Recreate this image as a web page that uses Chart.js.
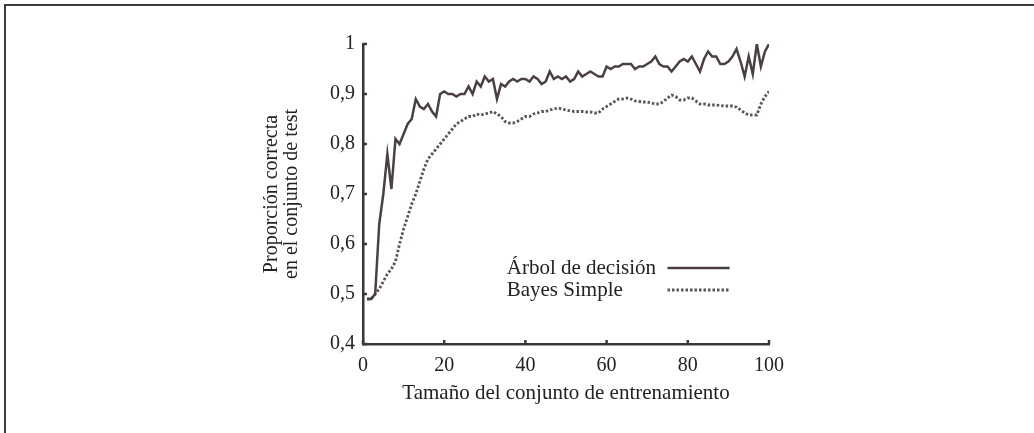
<!DOCTYPE html>
<html lang="es">
<head>
<meta charset="utf-8">
<title>Curva de aprendizaje</title>
<script src="https://cdn.jsdelivr.net/npm/chart.js@4.4.1/dist/chart.umd.min.js"></script>
<style>
  html, body { margin: 0; padding: 0; background: #fff; }
  .frame {
    position: absolute; left: 4px; top: 4px; right: 0; bottom: 0;
    border-top: 2px solid #3c3c3c; border-left: 2px solid #3c3c3c;
  }
  .chart-box { position: absolute; left: 0; top: 0; width: 1034px; height: 433px; }
</style>
</head>
<body>
<div class="frame"></div>
<div class="chart-box"><canvas id="learningChart" width="1034" height="433"></canvas></div>
<script>
// training set sizes (x) and accuracy on the test set for each method
const trainSizes = [
  1, 2, 3, 4, 5, 6, 7, 8, 9, 10, 11, 12, 13, 14, 15, 16, 17, 18, 19, 20,
  21, 22, 23, 24, 25, 26, 27, 28, 29, 30, 31, 32, 33, 34, 35, 36, 37, 38, 39, 40,
  41, 42, 43, 44, 45, 46, 47, 48, 49, 50, 51, 52, 53, 54, 55, 56, 57, 58, 59, 60,
  61, 62, 63, 64, 65, 66, 67, 68, 69, 70, 71, 72, 73, 74, 75, 76, 77, 78, 79, 80,
  81, 82, 83, 84, 85, 86, 87, 88, 89, 90, 91, 92, 93, 94, 95, 96, 97, 98, 99, 100
];

const treeAccuracy = [
  0.49, 0.49, 0.50, 0.64, 0.70, 0.78, 0.71, 0.81, 0.80, 0.82,
  0.84, 0.85, 0.89, 0.875, 0.87, 0.88, 0.865, 0.855, 0.90, 0.905,
  0.90, 0.90, 0.895, 0.90, 0.90, 0.915, 0.90, 0.925, 0.915, 0.935,
  0.925, 0.93, 0.89, 0.92, 0.915, 0.925, 0.93, 0.925, 0.93, 0.93,
  0.925, 0.935, 0.93, 0.92, 0.925, 0.945, 0.93, 0.935, 0.93, 0.935,
  0.925, 0.93, 0.945, 0.935, 0.94, 0.945, 0.94, 0.935, 0.935, 0.955,
  0.95, 0.955, 0.955, 0.96, 0.96, 0.96, 0.95, 0.955, 0.955, 0.96,
  0.965, 0.975, 0.96, 0.955, 0.955, 0.945, 0.955, 0.965, 0.97, 0.965,
  0.975, 0.96, 0.945, 0.97, 0.985, 0.975, 0.975, 0.96, 0.96, 0.965,
  0.975, 0.99, 0.965, 0.935, 0.975, 0.94, 1.0, 0.955, 0.985, 1.0
];

const bayesAccuracy = [
  0.49, 0.49, 0.50, 0.51, 0.525, 0.54, 0.55, 0.565, 0.60, 0.63,
  0.655, 0.68, 0.70, 0.725, 0.75, 0.77, 0.78, 0.79, 0.80, 0.81,
  0.82, 0.83, 0.84, 0.845, 0.85, 0.855, 0.855, 0.86, 0.858, 0.86,
  0.862, 0.865, 0.86, 0.855, 0.845, 0.842, 0.842, 0.845, 0.85, 0.855,
  0.855, 0.86, 0.862, 0.865, 0.865, 0.868, 0.87, 0.872, 0.87, 0.868,
  0.866, 0.865, 0.865, 0.865, 0.864, 0.864, 0.862, 0.862, 0.87, 0.875,
  0.88, 0.885, 0.89, 0.89, 0.892, 0.89, 0.886, 0.885, 0.884, 0.884,
  0.882, 0.88, 0.88, 0.885, 0.892, 0.898, 0.895, 0.888, 0.888, 0.892,
  0.892, 0.886, 0.88, 0.88, 0.878, 0.878, 0.878, 0.877, 0.876, 0.876,
  0.876, 0.874, 0.868, 0.862, 0.858, 0.858, 0.858, 0.88, 0.895, 0.905
];

const xTickValues = [0, 20, 40, 60, 80, 100];
const yTickLabels = ['0,4', '0,5', '0,6', '0,7', '0,8', '0,9', '1'];
const seriesNames = ['Árbol de decisión', 'Bayes Simple'];

const inkColor = '#3c3636';
const serifFont = '"Liberation Serif", "DejaVu Serif", serif';

// small tick marks pointing into the plot, like the printed figure
const innerTicks = {
  id: 'innerTicks',
  afterDraw(chart) {
    const { ctx, chartArea, scales } = chart;
    ctx.save();
    ctx.strokeStyle = inkColor;
    ctx.lineWidth = 2.5;
    ctx.beginPath();
    xTickValues.forEach(v => {
      const px = scales.x.getPixelForValue(v);
      ctx.moveTo(px, chartArea.bottom);
      ctx.lineTo(px, chartArea.bottom - 4);
    });
    yTickLabels.forEach((lbl, i) => {
      const py = scales.y.getPixelForValue(0.4 + i * 0.1);
      ctx.moveTo(chartArea.left, py);
      ctx.lineTo(chartArea.left + 4, py);
    });
    ctx.stroke();
    ctx.restore();
  }
};

// legend sits inside the plot, text first then the line sample
const insideLegend = {
  id: 'insideLegend',
  afterDraw(chart) {
    const { ctx, chartArea } = chart;
    const w = chartArea.right - chartArea.left;
    const h = chartArea.bottom - chartArea.top;
    const textX = chartArea.left + w * 0.354;
    const lineX0 = chartArea.left + w * 0.75;
    const lineX1 = chartArea.left + w * 0.903;
    const rows = [chartArea.top + h * 0.747, chartArea.top + h * 0.82];
    ctx.save();
    ctx.font = '21px ' + serifFont;
    ctx.fillStyle = '#222';
    ctx.textBaseline = 'middle';
    ctx.textAlign = 'left';
    chart.data.datasets.forEach((ds, i) => {
      ctx.fillText(seriesNames[i], textX, rows[i]);
      ctx.strokeStyle = ds.borderColor;
      ctx.lineWidth = ds.borderWidth;
      ctx.setLineDash(ds.borderDash || []);
      ctx.beginPath();
      ctx.moveTo(lineX0, rows[i]);
      ctx.lineTo(lineX1, rows[i]);
      ctx.stroke();
    });
    ctx.restore();
  }
};

const ctx = document.getElementById('learningChart');

new Chart(ctx, {
  type: 'line',
  data: {
    labels: trainSizes,
    datasets: [
      {
        label: seriesNames[0],
        data: treeAccuracy,
        borderColor: '#4a4040',
        borderWidth: 2.5,
        pointRadius: 0,
        tension: 0,
        fill: false
      },
      {
        label: seriesNames[1],
        data: bayesAccuracy,
        borderColor: '#5e5454',
        borderWidth: 2.8,
        borderDash: [2.5, 2],
        pointRadius: 0,
        tension: 0,
        fill: false
      }
    ]
  },
  options: {
    responsive: false,
    animation: false,
    layout: { padding: { left: 250, right: 265, top: 44, bottom: 0 } },
    plugins: {
      legend: { display: false },
      tooltip: { enabled: false }
    },
    scales: {
      x: {
        type: 'linear',
        min: 0,
        max: 100,
        afterFit(scale) { scale.height = 89; },
        afterBuildTicks(scale) { scale.ticks = xTickValues.map(v => ({ value: v })); },
        ticks: {
          color: '#222',
          padding: 10,
          maxRotation: 0,
          font: { family: serifFont, size: 20 },
          callback: v => String(v)
        },
        grid: { display: true, drawOnChartArea: false, drawTicks: false },
        border: { display: true, color: inkColor, width: 2.5 },
        title: {
          display: true,
          text: 'Tamaño del conjunto de entrenamiento',
          color: '#222',
          font: { family: serifFont, size: 21, lineHeight: 1.2 },
          padding: { top: 0, bottom: 27 }
        }
      },
      y: {
        type: 'linear',
        min: 0.4,
        max: 1,
        afterFit(scale) { scale.width = 113; },
        afterBuildTicks(scale) { scale.ticks = yTickLabels.map((l, i) => ({ value: 0.4 + i * 0.1 })); },
        ticks: {
          color: '#222',
          padding: 8,
          font: { family: serifFont, size: 20 },
          callback: (v, i) => yTickLabels[i]
        },
        grid: { display: true, drawOnChartArea: false, drawTicks: false },
        border: { display: true, color: inkColor, width: 2.5 },
        title: {
          display: true,
          text: ['Proporción correcta', 'en el conjunto de test'],
          color: '#222',
          font: { family: serifFont, size: 20, lineHeight: 1.0 },
          padding: { top: 12, bottom: 0 }
        }
      }
    }
  },
  plugins: [innerTicks, insideLegend]
});
</script>
</body>
</html>
